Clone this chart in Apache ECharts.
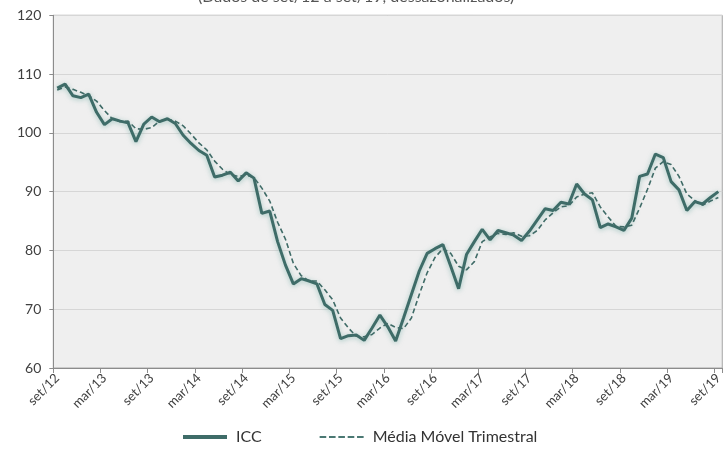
<!DOCTYPE html>
<html>
<head>
<meta charset="utf-8">
<script src="https://cdn.jsdelivr.net/npm/echarts@6/dist/echarts.min.js"></script>
<style>
html,body{margin:0;padding:0;background:#fff;overflow:hidden;}
#chart{width:725px;height:467px;}
</style>
</head>
<body>
<div id="chart"></div>
<script>
// Categories: monthly, set/12 .. set/19
const months = ['jan','fev','mar','abr','mai','jun','jul','ago','set','out','nov','dez'];
const categories = [];
(function(){
  let m = 8, y = 12;
  for (let i = 0; i < 85; i++) {
    categories.push(months[m] + '/' + y);
    m++; if (m === 12) { m = 0; y++; }
  }
})();

const iccValues = [
  107.6,108.3,106.3,106.0,106.6,103.5,101.4,102.4,102.0,101.7,
  98.5,101.5,102.7,101.9,102.4,101.6,99.6,98.2,97.0,96.2,
  92.5,92.8,93.3,91.8,93.2,92.3,86.3,86.7,81.5,77.5,
  74.3,75.2,74.8,74.3,70.8,69.8,65.0,65.5,65.6,64.7,
  66.8,69.0,67.0,64.6,68.5,72.5,76.5,79.5,80.3,81.0,
  77.3,73.5,79.3,81.5,83.6,81.8,83.4,83.0,82.6,81.7,
  83.3,85.2,87.1,86.8,88.2,87.9,91.3,89.6,88.6,83.9,
  84.5,84.0,83.4,85.5,92.6,93.0,96.4,95.8,91.7,90.3,
  86.8,88.3,87.9,89.0,90.0
];

const mediaMovelValues = [
  107.3,107.8,107.4,106.9,106.3,105.4,103.8,102.4,101.9,102.0,
  100.7,100.6,100.9,102.0,102.3,102.0,101.2,99.8,98.3,97.1,
  95.2,93.8,92.9,92.6,92.8,92.4,90.6,88.4,84.8,81.9,
  77.8,75.7,74.8,74.8,73.3,71.6,68.5,66.8,65.4,65.3,
  65.7,66.8,67.6,66.9,66.7,68.5,72.5,76.2,78.8,80.3,
  79.5,77.3,76.7,78.1,81.5,82.3,82.9,82.7,83.0,82.4,
  82.5,83.4,85.2,86.4,87.4,87.6,89.1,89.6,89.8,87.4,
  85.7,84.1,84.0,84.3,87.2,90.4,94.0,95.1,94.6,92.6,
  89.6,88.5,87.7,88.4,89.0
];

const yTicks = [60,70,80,90,100,110,120];

const FONT = 'Lato, "Open Sans", sans-serif';
const solidIcon = 'path://M0,0 L44,0 L44,4 L0,4 Z';
const dashedIcon = 'path://M0,0h6v2h-6z M8.5,0h6v2h-6z M17,0h6v2h-6z M25.5,0h6v2h-6z M34,0h6v2h-6z';

const chart = echarts.init(document.getElementById('chart'));
chart.setOption({
  backgroundColor: '#ffffff',
  animation: false,
  textStyle: { fontFamily: FONT },
  graphic: [{
    type: 'text',
    left: 198,
    top: -11,
    style: {
      text: '(Dados de set/12 a set/19, dessazonalizados)',
      fontFamily: FONT,
      fontSize: 16,
      fill: '#555555'
    }
  }],
  legend: {
    left: 178,
    top: 424,
    itemGap: 58,
    textStyle: { fontFamily: FONT, fontSize: 16, color: '#333333', padding: [0, 0, 0, 4] },
    data: [
      { name: 'ICC', icon: solidIcon, itemStyle: { color: '#3e6c68' } },
      { name: 'Média Móvel Trimestral', icon: dashedIcon, itemStyle: { color: '#4a7873' } }
    ],
    itemWidth: 44,
    itemHeight: 4
  },
  grid: {
    left: 53.3,
    right: -6.3,
    top: 15.3,
    bottom: 99,
    show: true,
    backgroundColor: '#efefef',
    borderColor: '#a6a6a6',
    borderWidth: 1,
    containLabel: false
  },
  xAxis: {
    type: 'category',
    data: categories,
    boundaryGap: true,
    axisLine: { show: true, lineStyle: { color: '#8c8c8c', width: 1 } },
    axisTick: { show: true, interval: 5, length: 5, lineStyle: { color: '#8c8c8c' } },
    axisLabel: {
      interval: 5,
      rotate: 45,
      fontFamily: FONT,
      fontSize: 13,
      color: '#404040',
      margin: 8
    },
    splitLine: { show: false }
  },
  yAxis: {
    type: 'value',
    min: yTicks[0],
    max: yTicks[yTicks.length - 1],
    interval: 10,
    axisLine: { show: true, lineStyle: { color: '#8c8c8c', width: 1 } },
    axisTick: { show: true, length: 4, lineStyle: { color: '#8c8c8c' } },
    axisLabel: { fontFamily: FONT, fontSize: 14, color: '#404040', margin: 12 },
    splitLine: { show: true, lineStyle: { color: '#d6d6d6', width: 1 } }
  },
  series: [
    {
      name: 'ICC',
      type: 'line',
      data: iccValues,
      symbol: 'none',
      smooth: false,
      z: 3,
      lineStyle: {
        color: '#3e6c68',
        width: 3,
        shadowColor: 'rgba(110,170,162,0.6)',
        shadowBlur: 5,
        shadowOffsetY: 1
      },
      itemStyle: { color: '#3e6c68' }
    },
    {
      name: 'Média Móvel Trimestral',
      type: 'line',
      data: mediaMovelValues,
      symbol: 'none',
      smooth: false,
      z: 4,
      lineStyle: {
        color: '#3f6b67',
        width: 1.6,
        type: [5, 3]
      },
      itemStyle: { color: '#3f6b67' }
    }
  ]
});
</script>
</body>
</html>
